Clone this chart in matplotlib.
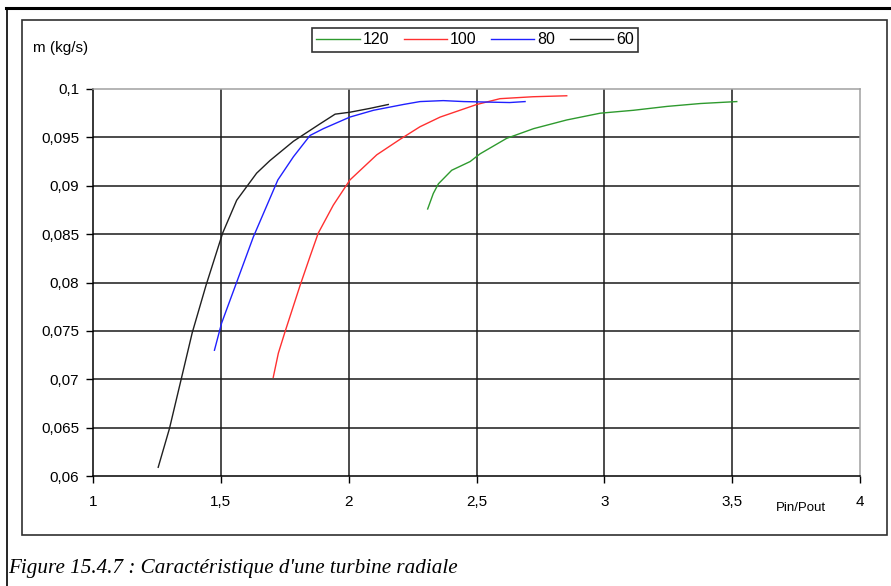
import matplotlib.pyplot as plt
from matplotlib.patches import Rectangle
from matplotlib.lines import Line2D

plt.rcParams['font.family'] = ['Liberation Sans', 'DejaVu Sans']

# speed lines (Pin/Pout, mass flow kg/s)
x120 = [2.309, 2.331, 2.351, 2.403, 2.475, 2.514, 2.618, 2.723, 2.853, 2.984, 3.114, 3.245, 3.376, 3.518]
m120 = [0.0876, 0.0892, 0.0902, 0.0916, 0.0925, 0.0933, 0.0949, 0.0959, 0.0968, 0.0975, 0.0978, 0.0982, 0.0985, 0.0987]

x100 = [1.705, 1.725, 1.751, 1.810, 1.849, 1.881, 1.940, 2.005, 2.110, 2.201, 2.279, 2.358, 2.501, 2.592, 2.721, 2.853]
m100 = [0.0702, 0.0727, 0.0749, 0.0797, 0.0827, 0.0851, 0.0880, 0.0906, 0.0932, 0.0948, 0.0961, 0.0971, 0.0984, 0.0990, 0.0992, 0.0993]

x80 = [1.475, 1.503, 1.556, 1.627, 1.723, 1.784, 1.849, 1.901, 2.005, 2.097, 2.214, 2.279, 2.37, 2.45, 2.63, 2.69]
m80 = [0.0730, 0.0758, 0.0796, 0.0847, 0.0906, 0.0930, 0.0952, 0.0959, 0.0971, 0.0978, 0.0984, 0.0987, 0.0988, 0.0987, 0.0986, 0.0987]

x60 = [1.255, 1.299, 1.344, 1.388, 1.442, 1.507, 1.562, 1.601, 1.640, 1.692, 1.784, 1.888, 1.947, 2.005, 2.084, 2.155]
m60 = [0.0609, 0.0649, 0.0699, 0.0748, 0.0797, 0.0851, 0.0885, 0.0899, 0.0913, 0.0926, 0.0946, 0.0964, 0.0974, 0.0976, 0.0980, 0.0984]

series = [('120', x120, m120, '#2e9a2e'),
          ('100', x100, m100, '#ff3030'),
          ('80', x80, m80, '#2020ff'),
          ('60', x60, m60, '#202020')]

xticks = [1, 1.5, 2, 2.5, 3, 3.5, 4]
xlabels = ['1', '1,5', '2', '2,5', '3', '3,5', '4']
yticks = [0.06, 0.065, 0.07, 0.075, 0.08, 0.085, 0.09, 0.095, 0.1]
ylabels = ['0,06', '0,065', '0,07', '0,075', '0,08', '0,085', '0,09', '0,095', '0,1']

fig = plt.figure(figsize=(8.91, 5.86), dpi=100)
ax = fig.add_axes([93 / 891, 1 - 476 / 586, (860 - 93) / 891, (476 - 89) / 586])

for name, xs, ms, col in series:
    ax.plot(xs, ms, color=col, lw=1.0, label=name)

ax.set_xlim(1, 4)
ax.set_ylim(0.06, 0.1)
ax.set_xticks(xticks)
ax.set_xticklabels(xlabels)
ax.set_yticks(yticks)
ax.set_yticklabels(ylabels)
ax.tick_params(labelsize=11, length=5, width=1, color='black', pad=5)
ax.tick_params(axis='x', pad=9)

# black grid, grey top/right border
for v in xticks[1:-1]:
    ax.axvline(v, color='#1a1a1a', lw=1.1, zorder=0)
for v in yticks[1:-1]:
    ax.axhline(v, color='#1a1a1a', lw=1.1, zorder=0)
ax.spines['top'].set_color('#a0a0a0')
ax.spines['right'].set_color('#a0a0a0')
ax.spines['left'].set_color('black')
ax.spines['bottom'].set_color('black')
for s in ax.spines.values():
    s.set_linewidth(1.1)

ax.text(3.77, -0.068, 'Pin/Pout', transform=ax.get_xaxis_transform(), fontsize=9.5, ha='center', va='top')
fig.text(33 / 891, 1 - 48 / 586, 'm (kg/s)', fontsize=11, ha='left', va='center')

leg = fig.legend(loc='center', bbox_to_anchor=(475 / 891, 1 - 40 / 586), ncol=4, fontsize=11.5,
                 frameon=True, fancybox=False, handlelength=2.7, handletextpad=0.2, columnspacing=0.9,
                 borderpad=0.3, edgecolor='black')
leg.get_frame().set_linewidth(1.2)

# chart frame and page border
fig.patches.append(Rectangle((22 / 891, 1 - 535 / 586), (887 - 22) / 891, (535 - 20) / 586,
                             transform=fig.transFigure, fill=False, edgecolor='#303030', lw=1.2))
fig.lines.append(Line2D([6 / 891, 1], [1 - 8 / 586, 1 - 8 / 586], transform=fig.transFigure, color='black', lw=2.2))
fig.lines.append(Line2D([7 / 891, 7 / 891], [0, 1 - 8 / 586], transform=fig.transFigure, color='black', lw=1.2))

fig.text(8 / 891, 1 - 568 / 586, "Figure 15.4.7 : Caractéristique d'une turbine radiale",
         family='Liberation Serif', style='italic', fontsize=15.2, ha='left', va='center')

fig.savefig('out.png', dpi=100)
